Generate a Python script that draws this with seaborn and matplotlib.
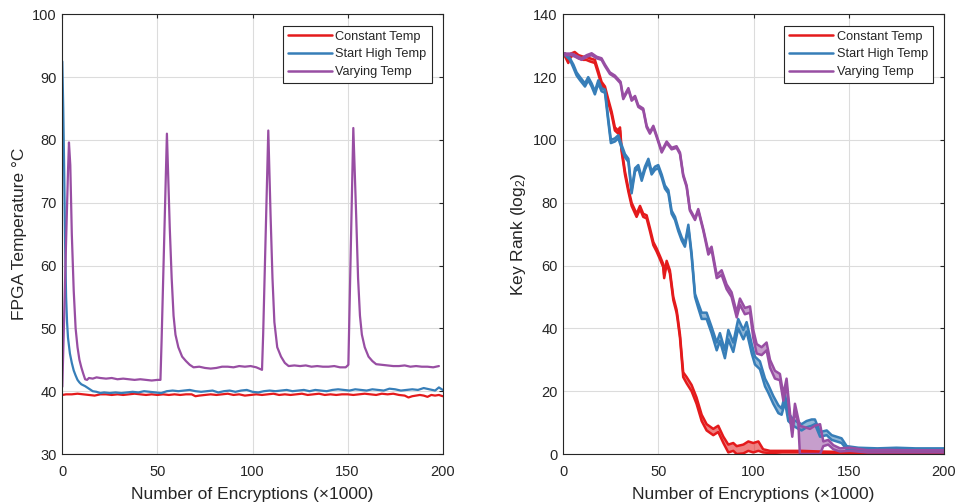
import matplotlib
matplotlib.use("Agg")
import matplotlib.pyplot as plt
from matplotlib.lines import Line2D
import pandas as pd
import seaborn as sns

# ---------------- data ----------------
series_names = ["Constant Temp", "Start High Temp", "Varying Temp"]
series_colors = ["#e41a1c", "#377eb8", "#984ea3"]

# Left panel: FPGA temperature (deg C) vs encryptions (x1000)
temp_const_x = [0, 2, 5, 8, 11, 14, 17, 20, 23, 26, 29, 32, 35, 38, 41, 44, 47, 50, 53, 56,
                59, 62, 65, 68, 70, 72, 75, 78, 81, 84, 87, 90, 93, 96, 99, 102, 105, 108, 111, 114,
                117, 120, 123, 126, 129, 132, 135, 138, 141, 144, 147, 150, 153, 156, 159, 162, 165, 168, 171, 174,
                177, 180, 182, 184, 186, 188, 190, 192, 194, 196, 198, 200]
temp_const_y = [39.4, 39.5, 39.5, 39.6, 39.5, 39.4, 39.3, 39.5, 39.5, 39.4, 39.5, 39.4, 39.5, 39.6, 39.5, 39.4, 39.5, 39.4, 39.5, 39.4,
                39.5, 39.4, 39.5, 39.5, 39.2, 39.3, 39.4, 39.5, 39.4, 39.5, 39.6, 39.4, 39.5, 39.3, 39.4, 39.5, 39.4, 39.5, 39.6, 39.4,
                39.5, 39.4, 39.5, 39.6, 39.4, 39.5, 39.6, 39.4, 39.5, 39.4, 39.5, 39.5, 39.4, 39.5, 39.6, 39.5, 39.4, 39.6, 39.5, 39.6,
                39.4, 39.3, 39.0, 39.2, 39.3, 39.4, 39.3, 39.1, 39.4, 39.3, 39.4, 39.2]

temp_high_x = [0, 0.5, 1, 1.5, 2, 2.5, 3, 4, 5, 6, 7, 8, 9, 10, 12, 14, 16, 18, 20, 22,
               25, 28, 31, 34, 37, 40, 43, 46, 49, 52, 55, 58, 61, 64, 67, 70, 73, 76, 79, 82,
               85, 88, 91, 94, 97, 100, 103, 106, 109, 112, 115, 118, 121, 124, 127, 130, 133, 136, 139, 142,
               145, 148, 151, 154, 157, 160, 163, 166, 169, 172, 175, 178, 181, 184, 187, 190, 193, 196, 198, 200]
temp_high_y = [92.5, 85, 75, 63, 55, 51, 48.5, 46, 44.5, 43.3, 42.5, 41.8, 41.4, 41.1, 40.8, 40.4, 40.0, 39.9, 39.7, 39.8,
               39.7, 39.8, 39.7, 39.8, 39.9, 39.8, 40.0, 39.9, 39.8, 39.7, 40.0, 40.1, 40.0, 40.1, 40.2, 40.0, 39.9, 40.0, 40.1, 39.8,
               40.0, 40.1, 39.9, 40.1, 40.2, 39.9, 39.8, 40.0, 40.1, 40.0, 40.1, 40.2, 40.0, 40.1, 40.2, 40.0, 40.2, 40.1, 40.0, 40.2,
               40.3, 40.2, 40.1, 40.3, 40.2, 40.1, 40.3, 40.2, 40.1, 40.4, 40.3, 40.1, 40.2, 40.3, 40.2, 40.5, 40.3, 40.1, 40.6, 40.2]

temp_vary_x = [0, 1, 2, 3, 3.5, 4.2, 5, 6, 7, 8, 9, 10, 11, 12, 13, 14, 16, 18, 20, 23,
               26, 29, 32, 35, 38, 41, 44, 47, 50, 51.6, 52.2, 55, 56.5, 57.5, 58.5, 59.5, 61, 63, 65, 67,
               69, 72, 75, 78, 81, 84, 87, 90, 93, 96, 99, 102, 105, 105.6, 108.3, 109.5, 110.5, 111.5, 113, 115,
               117, 119, 122, 125, 128, 131, 134, 137, 140, 143, 146, 149, 150.4, 150.8, 153, 154.5, 155.5, 156.5, 157.5, 159,
               161, 163, 165, 168, 171, 174, 177, 180, 183, 186, 189, 192, 195, 198]
temp_vary_y = [40.7, 52, 64, 75, 79.6, 76, 65, 56, 50, 47, 45, 43.8, 42.8, 41.9, 41.8, 42.1, 42.0, 42.2, 42.1, 42.0,
               42.1, 41.9, 42.0, 41.9, 41.8, 41.9, 41.8, 41.7, 41.8, 41.8, 48, 81.0, 66, 58, 52, 49, 47, 45.5, 44.8, 44.2,
               43.8, 43.9, 43.7, 43.6, 43.7, 43.9, 43.9, 43.8, 44.0, 43.9, 44.0, 43.8, 43.4, 49, 81.5, 68, 58, 51, 47, 45.5,
               44.5, 44.0, 44.1, 44.0, 44.1, 43.9, 44.0, 43.9, 43.9, 44.0, 43.8, 43.8, 44.2, 50, 81.9, 68, 58, 52, 49, 47,
               45.5, 44.8, 44.3, 44.2, 44.1, 44.0, 44.0, 44.1, 43.9, 44.0, 43.9, 43.9, 43.8, 44.0]

# Right panel: key rank (log2) upper / lower bounds
rank_const_x = [0, 1, 2.6, 4, 6, 8, 10.5, 12, 14, 16.6, 18.4, 20.1, 21.9, 23.6, 25.4, 27.1, 28.9, 29.8, 30.6, 32.4,
                34.2, 35.9, 38.5, 40.3, 42, 43.8, 45.5, 47.3, 49, 50.8, 52.5, 53, 54.3, 56, 57.8, 59.5, 60, 61.3, 63, 64.8,
                67.4, 70, 72.7, 75.3, 78.8, 81.4, 84.1, 86.7, 89.3, 91.1, 94.6, 97.2, 99.8, 102.5, 105, 108.6, 115, 125, 135, 150,
                165, 180, 200]
rank_const_hi = [127.5, 127.5, 125.5, 127.5, 128, 127, 126.5, 126.5, 126, 125.5, 122, 118.5, 117, 113, 109, 104, 103, 104, 97.5, 90,
                 84.5, 80, 76.5, 79, 76.5, 76, 72, 67.5, 65.5, 63, 60.5, 57, 61.5, 58.5, 50, 46, 44, 38, 26, 24.5,
                 22, 18, 12.5, 9.5, 8, 9, 5.5, 3, 3.5, 2.5, 3, 4, 3.5, 4, 1.5, 1, 1, 1, 0.8, 0.6,
                 0.5, 0.5, 0.5]
rank_const_lo = [127, 126.5, 124.5, 126.5, 127, 126, 125.5, 125.5, 125, 124.5, 121, 117.5, 116, 112, 108, 103, 102, 103, 96.5, 89,
                 83.5, 79, 75.5, 78, 75.5, 75, 71, 66.5, 64.5, 62, 59.5, 56, 60.5, 57.5, 49, 45, 43, 37, 24.5, 22.5,
                 20, 16, 10.5, 7.5, 6, 7, 3.5, 0.5, 1, 0, 0.2, 1, 0.5, 1, 0.5, 0.3, 0.5, 0.5, 0.3, 0.2,
                 0.1, 0.1, 0.1]

rank_high_x = [0, 1, 3.5, 5.3, 7, 8.8, 11.4, 13.1, 14.9, 16.6, 18.4, 20.1, 21.9, 23.6, 25, 27.1, 28.9, 30.6, 32.4, 34.2,
               35.9, 37.7, 39.4, 41.2, 42.9, 44.7, 46.4, 48.2, 49.9, 51.7, 53.4, 55.2, 56.9, 58.7, 60.4, 62.2, 63.9, 65.7, 67.4, 69.2,
               70.9, 72.7, 75.3, 77.9, 80.6, 82.3, 84.9, 86.7, 89.3, 91.9, 94.6, 96.3, 99, 100.7, 103.3, 106, 107.7, 110.3, 113, 114.7,
               116.5, 118.2, 120.8, 123.5, 125.2, 127.8, 130.5, 132.2, 134.9, 138.4, 141, 143.6, 146.2, 148.9, 155, 165, 175, 185, 200]
rank_high_hi = [127.5, 127.5, 126, 124, 121.5, 120, 118, 120, 118, 115.5, 119, 116.5, 116, 107, 100, 100.5, 101.5, 98.5, 95.5, 94,
                84, 91, 92, 88, 91.5, 94, 90, 91.5, 92, 89, 85.5, 84, 77.5, 75.5, 72, 69, 67, 73, 64, 51,
                48, 45, 45, 40.5, 35.5, 38.5, 33, 39.5, 35.5, 43, 39.5, 42, 35, 31, 29.5, 24, 22, 18.5, 15.5, 14.5,
                19, 13, 11, 10, 9.5, 10.5, 11, 11, 7, 7.5, 6, 5.5, 5, 2.5, 2, 1.8, 2, 1.8, 1.8]
rank_high_lo = [127, 127, 125.5, 123, 120.5, 119, 117, 119, 117, 114.5, 118, 115.5, 115, 106, 99, 99.5, 100.5, 97.5, 94.5, 93,
                83, 90, 91, 87, 90.5, 93, 89, 90.5, 91, 88, 84.5, 83, 76.5, 74.5, 71, 68, 66, 72, 63, 50,
                46.5, 43, 43, 38.5, 33, 36, 30.5, 36.5, 32.5, 40, 36.5, 39, 32, 28.5, 27, 21.5, 19.5, 16, 13, 12.5,
                16.5, 10.5, 9, 8, 7.5, 8.5, 9, 9.5, 5.5, 6, 4.5, 4, 3.5, 1.5, 1.2, 1.2, 1.3, 1.2, 1.2]

rank_vary_x = [0, 1, 4.4, 7.9, 9.6, 12.3, 14.9, 17.5, 20.1, 21.9, 24.5, 27.1, 30.1, 31.5, 34.2, 35.9, 37.7, 39.4, 42, 43.8,
               45.5, 47.3, 49, 51.7, 54.3, 56.9, 59.5, 61.3, 63, 64.8, 66.5, 69.2, 70.9, 73.6, 76.2, 77.9, 80.6, 83.2, 85.8, 88.4,
               91.1, 92.8, 95.4, 98.1, 99.8, 101.6, 104.2, 106.8, 108.6, 111.2, 113.8, 115.6, 117.3, 119.1, 120.3, 121.7, 123.5, 124.3, 127, 129.6,
               132.2, 134.9, 136.6, 139.2, 141.9, 145.4, 150.6, 160, 170, 180, 190, 200]
rank_vary_hi = [127.5, 127.5, 127.5, 126.5, 126, 127, 127.6, 126.5, 126, 124, 121.5, 120.5, 118.5, 113.5, 116.5, 113, 114, 111, 110, 104.5,
                102.5, 104.5, 101.5, 96.5, 99.5, 97.5, 98, 96, 89, 85.5, 78, 75, 78, 71.5, 64.5, 66, 57, 58.5, 54, 51.5,
                45, 49.5, 46.5, 47, 39.5, 35, 34, 35.5, 30, 26.5, 25.5, 19, 24, 13, 7, 16, 11, 9, 8.5, 8,
                9, 9.5, 4, 4.5, 2.8, 1.8, 2, 1.2, 1.3, 1.2, 1.2, 1.2]
rank_vary_lo = [127, 127, 127, 126, 125.5, 126.5, 127, 126, 125.5, 123.5, 121, 120, 118, 113, 116, 112.5, 113.5, 110.5, 109.5, 104,
                102, 104, 101, 96, 99, 97, 97.5, 95.5, 88.5, 85, 77.5, 74.5, 77.5, 71, 63.5, 65, 56, 57, 52.5, 50,
                43.5, 47.5, 44.5, 45, 37, 32, 31.5, 33, 27.5, 24, 23.5, 17, 22, 11.5, 5.5, 14, 9.5, 0, 0, 0,
                0, 0, 2.5, 3, 1.5, 0.8, 1, 0.5, 0.5, 0.5, 0.5, 0.5]

x_ticks = [0, 50, 100, 150, 200]
temp_ticks = [30, 40, 50, 60, 70, 80, 90, 100]
rank_ticks = [0, 20, 40, 60, 80, 100, 120, 140]

# ---------------- style ----------------
sns.set_theme(style="white")
plt.rcParams['font.family'] = ['Liberation Sans', 'DejaVu Sans']
plt.rcParams['mathtext.fontset'] = 'custom'
plt.rcParams['mathtext.rm'] = 'Liberation Sans'
plt.rcParams['mathtext.it'] = 'Liberation Sans:italic'
AX = "#262626"

palette = dict(zip(series_names, series_colors))

temp_df = pd.concat([
    pd.DataFrame({"x": temp_const_x, "y": temp_const_y, "series": series_names[0]}),
    pd.DataFrame({"x": temp_high_x, "y": temp_high_y, "series": series_names[1]}),
    pd.DataFrame({"x": temp_vary_x, "y": temp_vary_y, "series": series_names[2]}),
], ignore_index=True)

rank_sets = [
    (series_names[0], rank_const_x, rank_const_hi, rank_const_lo),
    (series_names[1], rank_high_x, rank_high_hi, rank_high_lo),
    (series_names[2], rank_vary_x, rank_vary_hi, rank_vary_lo),
]
rank_frames = []
for name, xs, hi, lo in rank_sets:
    rank_frames.append(pd.DataFrame({"x": xs, "y": hi, "series": name, "bound": "hi"}))
    rank_frames.append(pd.DataFrame({"x": xs, "y": lo, "series": name, "bound": "lo"}))
rank_df = pd.concat(rank_frames, ignore_index=True)

fig = plt.figure(figsize=(9.57, 5.04), dpi=100)
ax1 = fig.add_axes([0.0651, 0.0992, 0.3975, 0.8724])
ax2 = fig.add_axes([0.5886, 0.0992, 0.3978, 0.8724])

sns.lineplot(data=temp_df, x="x", y="y", hue="series", palette=palette,
             hue_order=series_names, estimator=None, sort=False, lw=1.6, ax=ax1)

for name, xs, hi, lo in rank_sets:
    sub = rank_df[rank_df["series"] == name]
    ax2.fill_between(xs, lo, hi, color=palette[name], alpha=0.55, lw=0)
    sns.lineplot(data=sub, x="x", y="y", units="bound", color=palette[name],
                 estimator=None, sort=False, lw=1.8, ax=ax2, legend=False)

def style_axes(ax, yticks, ylim, ylabel):
    ax.set_xlim(0, 200)
    ax.set_ylim(*ylim)
    ax.set_xticks(x_ticks)
    ax.set_yticks(yticks)
    ax.grid(True, color="#dcdcdc", lw=0.8)
    ax.set_axisbelow(True)
    for s in ax.spines.values():
        s.set_color(AX)
        s.set_linewidth(0.8)
        s.set_visible(True)
    ax.tick_params(direction="in", length=3, width=0.8, color=AX, labelcolor=AX,
                   labelsize=10.5, top=True, right=True)
    ax.tick_params(axis="x", pad=8)
    ax.tick_params(axis="y", pad=4)
    ax.set_xlabel("Number of Encryptions (×1000)", fontsize=12.5, color=AX, labelpad=6)
    ax.set_ylabel(ylabel, fontsize=12.5, color=AX, labelpad=4)

style_axes(ax1, temp_ticks, (30, 100), "FPGA Temperature °C")
style_axes(ax2, rank_ticks, (0, 140), r"Key Rank (log$_\mathregular{2}$)")

for ax in (ax1, ax2):
    handles = [Line2D([], [], color=c, lw=1.8) for c in series_colors]
    if ax.get_legend() is not None:
        ax.get_legend().remove()
    leg = ax.legend(handles, series_names, loc="upper right",
                    bbox_to_anchor=(1 - 11 / 380.5, 1 - 11.4 / 439.7), borderaxespad=0,
                    fontsize=9.2, frameon=True, fancybox=False, framealpha=1,
                    edgecolor=AX, handlelength=3.4, handletextpad=0.3,
                    labelspacing=0.44, borderpad=0.4)
    leg.get_frame().set_linewidth(0.8)
    for t in leg.get_texts():
        t.set_color(AX)

fig.savefig("out.png", dpi=100, facecolor="white")
